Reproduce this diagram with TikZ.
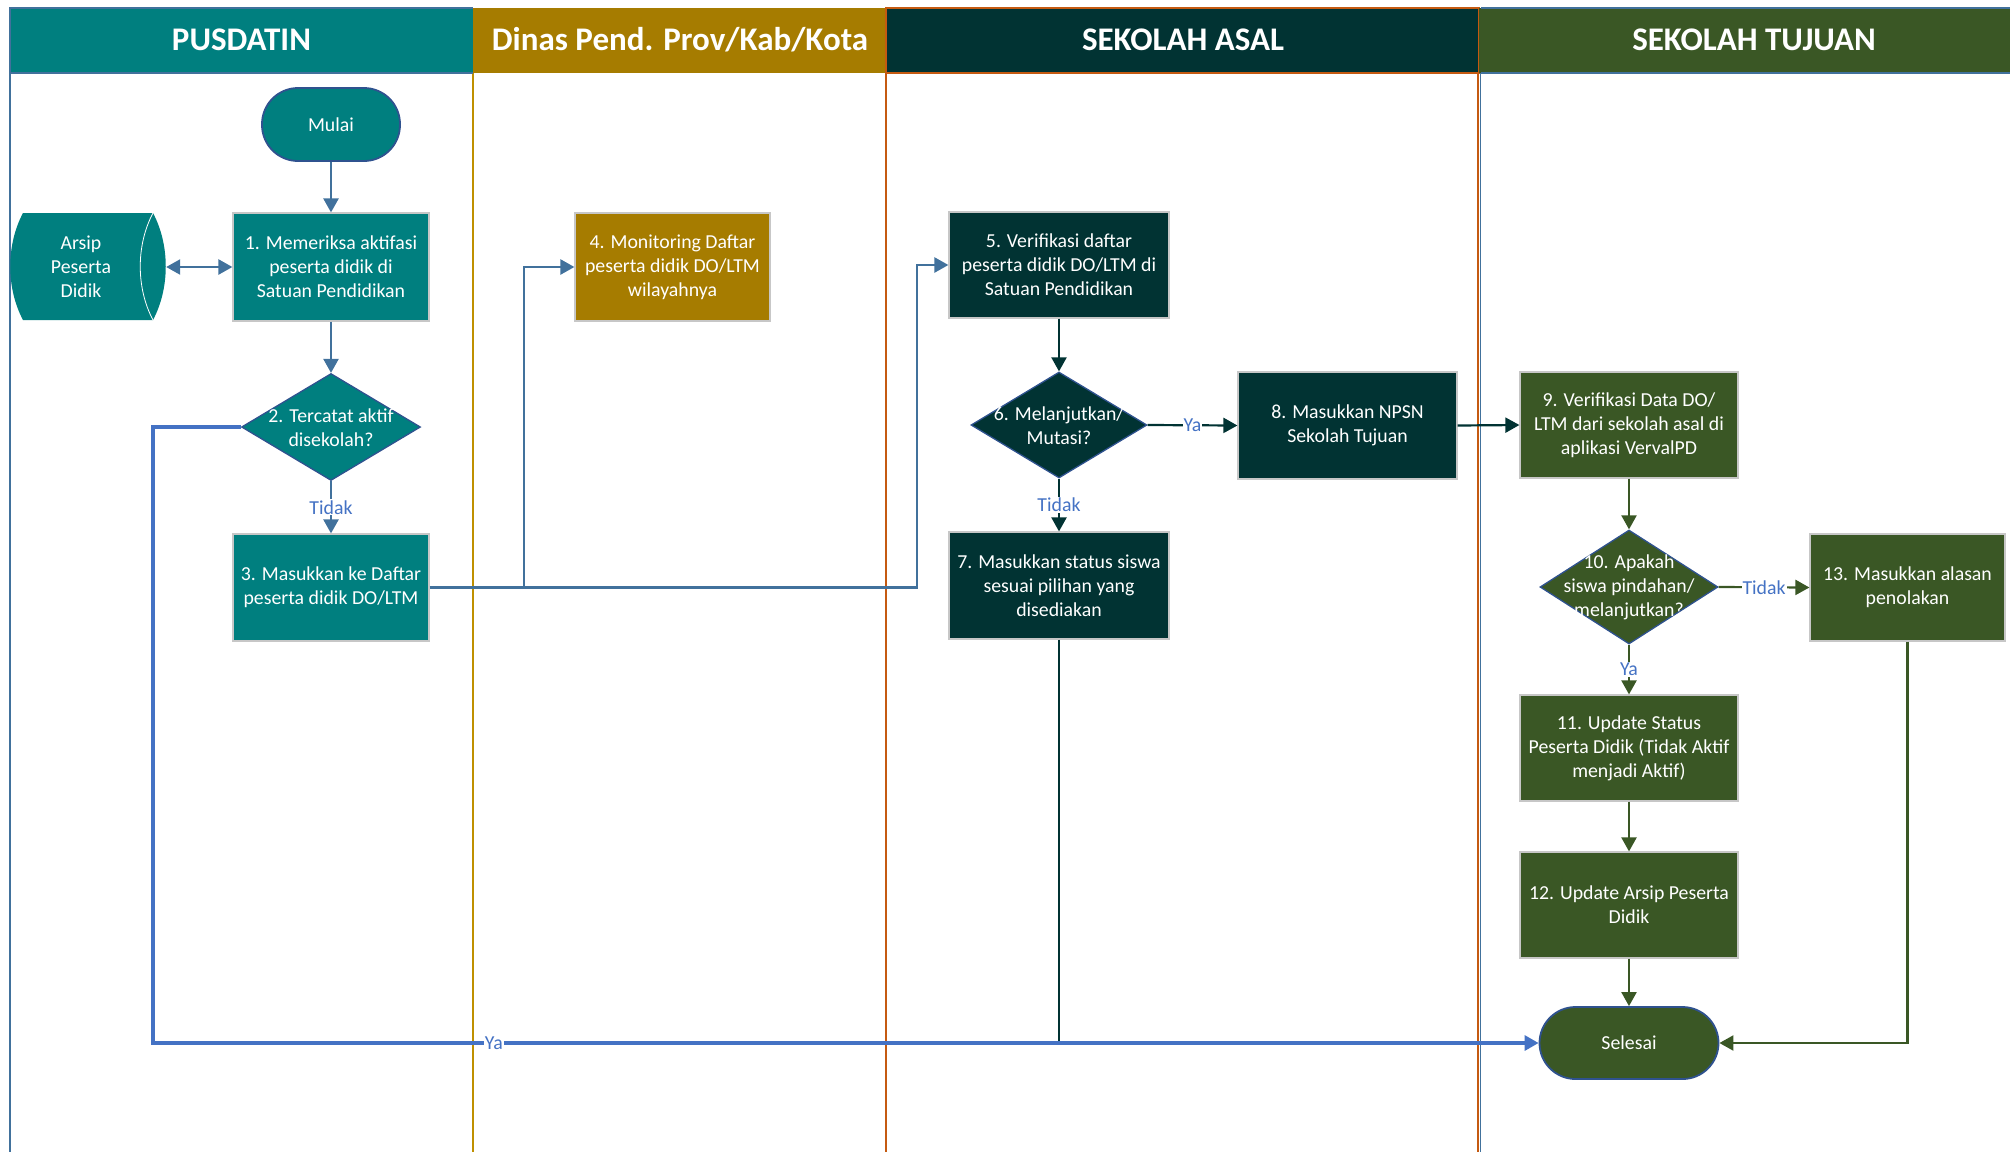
\documentclass[tikz,border=0pt]{standalone}
\usepackage{fontspec}
\setmainfont{Carlito}
\usetikzlibrary{arrows.meta,shapes.geometric}
\definecolor{cteal}{HTML}{007F7F}
\definecolor{cgold}{HTML}{A67C00}
\definecolor{cdark}{HTML}{013333}
\definecolor{cgreen}{HTML}{3A5725}
\definecolor{cblue}{HTML}{41719C}
\definecolor{cblue2}{HTML}{4472C4}
\definecolor{corange}{HTML}{C55A11}
\definecolor{clanegold}{HTML}{BF9000}
\definecolor{cdborder}{HTML}{2F528F}
\tikzset{
  txt/.style={font=\fontsize{19.8}{24}\selectfont, text=white, align=center},
  procbox/.style={txt, draw=black!22, line width=1.2pt, inner sep=0pt},
  decis/.style={diamond, draw=cdborder, line width=1.3pt, inner sep=0pt},
  termbox/.style={txt, rounded corners=36pt, draw=cdborder, line width=1.8pt, inner sep=0pt},
  lbl/.style={font=\fontsize{19.8}{24}\selectfont, text=cblue2, fill=white, inner sep=1pt},
  hdr/.style={font=\fontsize{33}{36}\selectfont\bfseries, text=white},
  tip/.style={-{Triangle[length=14pt,width=15pt]}},
  bconn/.style={cblue, line width=2.4pt},
  dconn/.style={cdark, line width=2.2pt},
  gconn/.style={cgreen, line width=2.2pt},
}
\begin{document}
\begin{tikzpicture}[x=1pt,y=-1pt]
\useasboundingbox (0,0) rectangle (2010,1152);
% lanes
\draw[cblue, line width=1.5pt] (10,73) -- (10,1152);
\draw[clanegold, line width=1.5pt] (473,73) -- (473,1152);
\draw[corange, line width=1.5pt] (886,73) -- (886,1152);
\draw[corange, line width=2pt] (1478,73) -- (1478,1152);
\draw[cblue, line width=1pt] (1480.5,73) -- (1480.5,1152);
% headers
\fill[cteal] (10,8) rectangle (473,73);
\draw[cblue, line width=1.5pt] (10,73) -- (10,8) -- (473,8);
\draw[cblue, line width=1.5pt] (10,73) -- (473,73);
\fill[cgold] (473,8) rectangle (886,73);
\fill[cdark] (886,8) rectangle (1479,73);
\draw[corange, line width=2pt] (886,8) rectangle (1479,73);
\fill[cgreen] (1479,8) rectangle (2020,73);
\draw[cblue, line width=2pt] (1481,8) -- (2020,8);
\draw[cblue, line width=2pt] (1481,73) -- (2020,73);
\node[hdr] (h1) at (241.5,40) {PUSDATIN};
\node[hdr] (h2) at (680,40) {Dinas Pend. Prov/Kab/Kota};
\node[hdr] (h3) at (1183,40) {SEKOLAH ASAL};
\node[hdr] (h4) at (1754,40) {SEKOLAH TUJUAN};
% Arsip shape
\fill[cteal] (23,213) -- (153,213) .. controls (170,245) and (170,288) .. (153,320) -- (23,320) .. controls (6,288) and (6,245) .. (23,213);
\draw[white, line width=0.8pt] (153,213) .. controls (136,245) and (136,288) .. (153,320);
\node[minimum width=154pt, minimum height=107pt, inner sep=0pt] (arsip) at (89,267) {};
\node[txt] (arsiptext) at (81,267) {Arsip\\Peserta\\Didik};
% nodes
\node[termbox, fill=cteal, minimum width=138pt, minimum height=73pt] (mulai) at (331,124.5) {Mulai};
\node[procbox, fill=cteal, minimum width=196pt, minimum height=108pt] (b1) at (331,267) {1. Memeriksa aktifasi\\peserta didik di\\Satuan Pendidikan};
\node[decis, fill=cteal, minimum width=179pt, minimum height=107pt] (d2) at (331,427) {};
\node[txt] (d2t) at (331,428) {2. Tercatat aktif\\disekolah?};
\node[procbox, fill=cteal, minimum width=196pt, minimum height=107pt] (b3) at (331,587.5) {3. Masukkan ke Daftar\\peserta didik DO/LTM};
\node[procbox, fill=cgold, minimum width=195pt, minimum height=108pt] (b4) at (672.5,267) {4. Monitoring Daftar\\peserta didik DO/LTM\\wilayahnya};
\node[procbox, fill=cdark, minimum width=220pt, minimum height=106pt] (b5) at (1059,265) {5. Verifikasi daftar\\peserta didik DO/LTM di\\Satuan Pendidikan};
\node[decis, fill=cdark, minimum width=176pt, minimum height=106pt] (d6) at (1059,425) {};
\node[txt] (d6t) at (1059,426) {6. Melanjutkan/\\Mutasi?};
\node[procbox, fill=cdark, minimum width=220pt, minimum height=107pt] (b7) at (1059,585.5) {7. Masukkan status siswa\\sesuai pilihan yang\\disediakan};
\node[procbox, fill=cdark, minimum width=219pt, minimum height=107pt] (b8) at (1347.5,425.5) {8. Masukkan NPSN\\Sekolah Tujuan};
\node[procbox, fill=cgreen, minimum width=218pt, minimum height=106pt] (b9) at (1629,425) {9. Verifikasi Data DO/\\LTM dari sekolah asal di\\aplikasi VervalPD};
\node[decis, fill=cgreen, minimum width=178pt, minimum height=114pt] (d10) at (1629,587) {};
\node[txt] (d10t) at (1629,587) {10. Apakah\\siswa pindahan/\\melanjutkan?};
\node[procbox, fill=cgreen, minimum width=195pt, minimum height=107pt] (b13) at (1907.5,587.5) {13. Masukkan alasan\\penolakan};
\node[procbox, fill=cgreen, minimum width=218pt, minimum height=106pt] (b11) at (1629,748) {11. Update Status\\Peserta Didik (Tidak Aktif\\menjadi Aktif)};
\node[procbox, fill=cgreen, minimum width=218pt, minimum height=106pt] (b12) at (1629,905) {12. Update Arsip Peserta\\Didik};
\node[termbox, fill=cgreen, minimum width=179pt, minimum height=72pt] (sel) at (1629,1043) {Selesai};
% helper coordinates
\coordinate (j1) at (524,587.5);
\coordinate (j2) at (917,587.5);
\coordinate (c1) at (153,427);
\coordinate (c2) at (153,1043);
\coordinate (c3) at (1059,1043);
% connectors PUSDATIN
\draw[bconn, tip] (mulai.south) -- (b1.north);
\draw[bconn, {Triangle[length=14pt,width=15pt]}-{Triangle[length=14pt,width=15pt]}] (arsip.east) -- (b1.west);
\draw[bconn, tip] (b1.south) -- (d2.north);
\draw[bconn, tip] (d2.south) -- node[lbl] {Tidak} (b3.north);
\draw[bconn, tip] (b3.east) -- (j1) |- (b4.west);
\draw[bconn, tip] (j1) -- (j2) |- (b5.west);
% bottom Ya line
\draw[dconn, line width=1.8pt] (b7.south) -- (c3);
\draw[cblue2, line width=3.2pt, tip] (d2.west) -- (c1) -- (c2) -- node[lbl, pos=0.246] {Ya} (sel.west);
% Sekolah Asal
\draw[dconn, tip] (b5.south) -- (d6.north);
\draw[dconn, tip] (d6.east) -- node[lbl] {Ya} (b8.west);
\draw[dconn, tip] (d6.south) -- node[lbl] {Tidak} (b7.north);
\draw[dconn, tip] (b8.east) -- (b9.west);
% Sekolah Tujuan
\draw[gconn, tip] (b9.south) -- (d10.north);
\draw[gconn, tip] (d10.east) -- node[lbl] {Tidak} (b13.west);
\draw[gconn, tip] (d10.south) -- node[lbl] {Ya} (b11.north);
\draw[gconn, tip] (b11.south) -- (b12.north);
\draw[gconn, tip] (b12.south) -- (sel.north);
\draw[gconn, tip] (b13.south) |- (sel.east);
\end{tikzpicture}
\end{document}
